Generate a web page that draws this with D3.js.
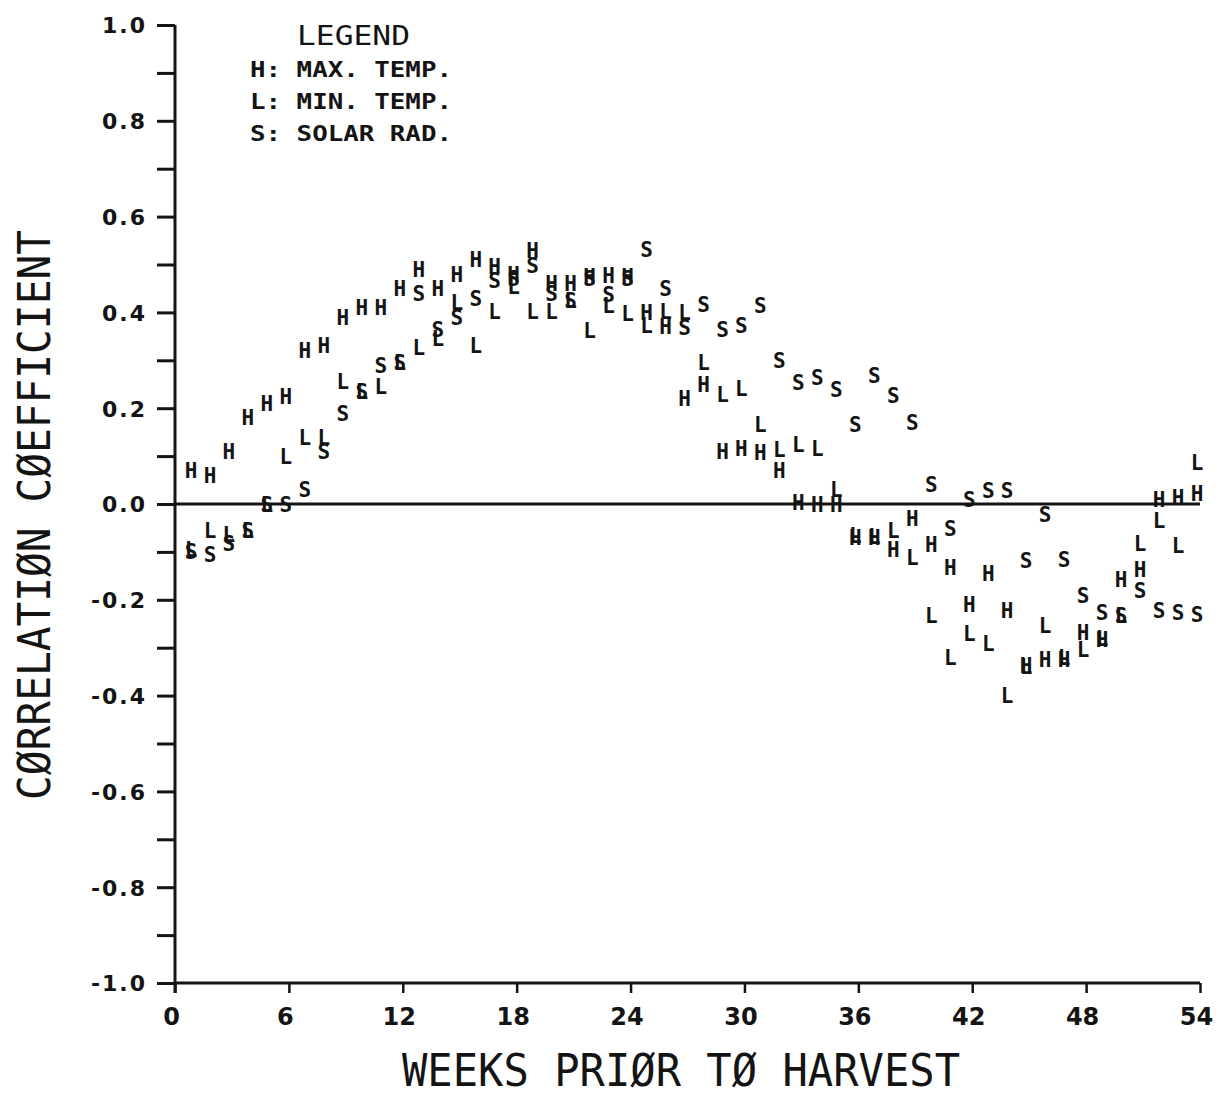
<!DOCTYPE html>
<html>
<head>
<meta charset="utf-8">
<script src="https://cdn.jsdelivr.net/npm/d3@7"></script>
<style>
  html, body { margin: 0; padding: 0; background: #fff; }
  svg { display: block; }
</style>
</head>
<body>
<svg id="chart" width="1219" height="1098"></svg>
<script>
// Weeks prior to harvest, 1..54
const weeks = d3.range(1, 55);

// H: maximum temperature
const maxTemp = [
  0.07, 0.06, 0.11, 0.18, 0.21, 0.225, 0.32, 0.33, 0.39, 0.41,
  0.41, 0.45, 0.49, 0.45, 0.48, 0.51, 0.495, 0.48, 0.53, 0.46,
  0.46, 0.475, 0.477, 0.475, 0.40, 0.37, 0.22, 0.25, 0.11, 0.115,
  0.108, 0.07, 0.004, 0.0, 0.0, -0.07, -0.07, -0.094, -0.031, -0.085,
  -0.133, -0.21, -0.146, -0.223, -0.338, -0.324, -0.324, -0.268, -0.282, -0.158,
  -0.137, 0.01, 0.014, 0.022
];

// L: minimum temperature
const minTemp = [
  -0.095, -0.055, -0.063, -0.055, 0.0, 0.10, 0.14, 0.14, 0.255, 0.235,
  0.245, 0.295, 0.327, 0.345, 0.42, 0.33, 0.403, 0.455, 0.403, 0.403,
  0.425, 0.362, 0.414, 0.397, 0.372, 0.403, 0.40, 0.296, 0.228, 0.242,
  0.167, 0.113, 0.125, 0.115, 0.031, -0.065, -0.068, -0.056, -0.111, -0.233,
  -0.32, -0.271, -0.292, -0.40, -0.34, -0.254, -0.32, -0.303, -0.28, -0.233,
  -0.083, -0.035, -0.087, 0.087
];

// S: solar radiation
const solarRad = [
  -0.10, -0.105, -0.083, -0.055, 0.0, 0.0, 0.03, 0.11, 0.19, 0.235,
  0.29, 0.295, 0.44, 0.365, 0.39, 0.43, 0.466, 0.47, 0.497, 0.44,
  0.425, 0.47, 0.438, 0.47, 0.532, 0.449, 0.369, 0.417, 0.365, 0.372,
  0.414, 0.30, 0.254, 0.264, 0.24, 0.167, 0.268, 0.226, 0.171, 0.04,
  -0.052, 0.010, 0.028, 0.028, -0.118, -0.021, -0.115, -0.19, -0.226, -0.233,
  -0.181, -0.223, -0.226, -0.23
];

const xTicks = [0, 6, 12, 18, 24, 30, 36, 42, 48, 54];
const yMajorTicks = [1.0, 0.8, 0.6, 0.4, 0.2, 0.0, -0.2, -0.4, -0.6, -0.8, -1.0];
const yAllTicks = d3.range(-10, 11).map(i => i / 10);

const legendTitle = "LEGEND";
const legendRows = ["H: MAX. TEMP.", "L: MIN. TEMP.", "S: SOLAR RAD."];
const xTitle = "WEEKS PRIØR TØ HARVEST";
const yTitle = "CØRRELATIØN CØEFFICIENT";

const series = [
  { symbol: "H", values: maxTemp },
  { symbol: "L", values: minTemp },
  { symbol: "S", values: solarRad }
];

const ink = "#141414";
const svg = d3.select("#chart");

const x = d3.scaleLinear().domain([0, 54]).range([175, 1200]);
const y = d3.scaleLinear().domain([-1, 1]).range([983, 25]);

const fmt = v => (Math.abs(v) < 1e-9 ? "0.0" : d3.format(".1f")(v).replace("−", "-"));

// Left axis with a tick every 0.1 and a label every 0.2
const yAxis = d3.axisLeft(y)
  .tickValues(yAllTicks)
  .tickSize(18)
  .tickPadding(10)
  .tickFormat(v => yMajorTicks.some(t => Math.abs(t - v) < 1e-9) ? fmt(v) : "");

const gy = svg.append("g")
  .attr("transform", `translate(${x(0)},0)`)
  .call(yAxis);
gy.select(".domain").remove();
gy.selectAll(".tick line").attr("stroke", ink).attr("stroke-width", 3);
gy.selectAll(".tick text")
  .attr("fill", ink)
  .attr("font-family", "'DejaVu Sans', sans-serif")
  .attr("font-weight", "bold")
  .attr("font-size", 22)
  .attr("letter-spacing", 2)
  .attr("dy", "0.36em");

// Bottom axis
const xAxis = d3.axisBottom(x)
  .tickValues(xTicks)
  .tickSize(10)
  .tickPadding(10)
  .tickFormat(d3.format("d"));

const gx = svg.append("g")
  .attr("transform", `translate(0,${y(-1)})`)
  .call(xAxis);
gx.select(".domain").remove();
gx.selectAll(".tick line").attr("stroke", ink).attr("stroke-width", 2.5);
gx.selectAll(".tick text")
  .attr("fill", ink)
  .attr("font-family", "'DejaVu Sans', sans-serif")
  .attr("font-weight", "bold")
  .attr("font-size", 24)
  .attr("dx", -4)
  .attr("dy", "0.9em");

// Axis frame lines and the zero reference line
svg.append("line")
  .attr("x1", x(0)).attr("x2", x(0))
  .attr("y1", y(1)).attr("y2", y(-1) + 10)
  .attr("stroke", ink).attr("stroke-width", 3);
svg.append("line")
  .attr("x1", x(0)).attr("x2", x(54))
  .attr("y1", y(-1)).attr("y2", y(-1))
  .attr("stroke", ink).attr("stroke-width", 3);
svg.append("line")
  .attr("x1", x(0)).attr("x2", x(54))
  .attr("y1", y(0)).attr("y2", y(0))
  .attr("stroke", ink).attr("stroke-width", 3);

// Letter symbols, one per series per week
series.forEach(s => {
  svg.append("g")
    .selectAll("text")
    .data(s.values.map((v, i) => ({ week: weeks[i], value: v })))
    .join("text")
    .attr("x", d => x(d.week) - 3)
    .attr("y", d => y(d.value))
    .attr("dy", "0.36em")
    .attr("text-anchor", "middle")
    .attr("font-family", "'DejaVu Sans Mono', monospace")
    .attr("font-weight", "bold")
    .attr("font-size", 21)
    .attr("fill", ink)
    .text(s.symbol);
});

// Legend
svg.append("text")
  .attr("x", 297).attr("y", 45)
  .attr("font-family", "'DejaVu Sans Mono', monospace")
  .attr("font-size", 26)
  .attr("textLength", 113)
  .attr("lengthAdjust", "spacingAndGlyphs")
  .attr("fill", ink)
  .text(legendTitle);

svg.append("g")
  .selectAll("text")
  .data(legendRows)
  .join("text")
  .attr("x", 250)
  .attr("y", (d, i) => 77 + i * 32)
  .attr("font-family", "'DejaVu Sans Mono', monospace")
  .attr("font-weight", "bold")
  .attr("font-size", 21)
  .attr("textLength", 202)
  .attr("lengthAdjust", "spacingAndGlyphs")
  .attr("fill", ink)
  .text(d => d);

// Axis titles
svg.append("text")
  .attr("x", 681).attr("y", 1086)
  .attr("text-anchor", "middle")
  .attr("font-family", "'DejaVu Sans Mono', monospace")
  .attr("font-size", 44)
  .attr("textLength", 558)
  .attr("lengthAdjust", "spacingAndGlyphs")
  .attr("fill", ink)
  .text(xTitle);

svg.append("text")
  .attr("transform", "translate(50,515) rotate(-90)")
  .attr("text-anchor", "middle")
  .attr("font-family", "'DejaVu Sans Mono', monospace")
  .attr("font-size", 44)
  .attr("textLength", 570)
  .attr("lengthAdjust", "spacingAndGlyphs")
  .attr("fill", ink)
  .text(yTitle);
</script>
</body>
</html>
